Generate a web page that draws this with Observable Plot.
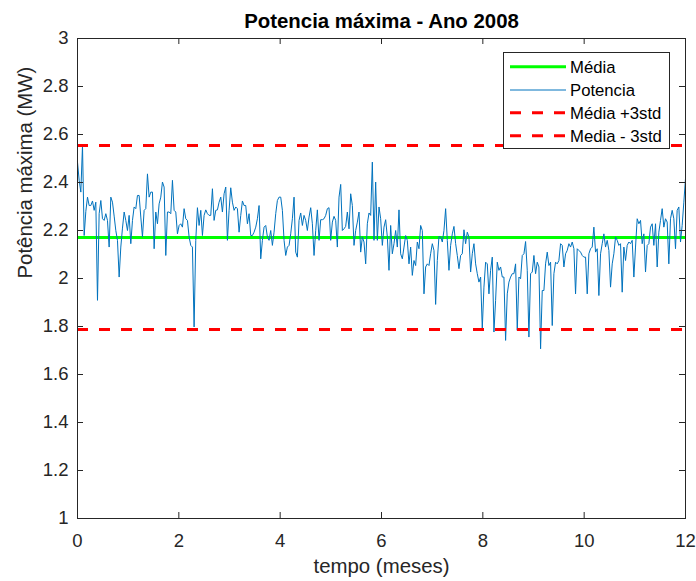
<!DOCTYPE html>
<html><head><meta charset="utf-8">
<script src="https://cdn.jsdelivr.net/npm/d3@7"></script>
<script src="https://cdn.jsdelivr.net/npm/@observablehq/plot@0.6"></script>
<style>
html,body{margin:0;padding:0;background:#fff;}
#wrap{position:relative;width:696px;height:581px;font-family:"Liberation Sans",Arial,sans-serif;}
#wrap svg{display:block;}
</style></head><body><div id="wrap"></div>
<script>
// Potência máxima diária (MW), ano 2008 (366 dias)
const potencia = [
2.485,2.409,2.360,2.554,2.179,2.28,2.339,2.304,2.304,2.323,2.284,2.318,1.909,2.270,2.325,2.249,2.242,2.270,2.242,2.131,
2.339,2.318,2.26,2.200,2.159,2.006,2.131,2.21,2.277,2.242,2.200,2.263,2.145,2.242,2.298,2.291,2.346,2.346,2.256,2.173,
2.284,2.291,2.436,2.339,2.360,2.360,2.124,2.277,2.228,2.311,2.339,2.402,2.381,2.096,2.277,2.277,2.270,2.409,2.284,2.277,
2.186,2.221,
2.228,2.214,2.291,2.249,2.242,2.173,2.138,2.131,1.798,2.159,2.295,2.221,2.284,2.179,2.263,2.286,2.270,2.263,2.263,2.374,
2.242,2.284,2.286,2.318,2.339,2.277,2.353,2.381,2.159,2.284,2.378,2.318,2.284,2.298,2.291,2.193,2.263,2.323,2.304,2.304,
2.228,2.270,2.179,2.179,2.193,2.214,2.249,2.304,2.082,2.159,2.214,2.221,2.173,2.159,2.200,2.138,2.193,2.270,2.325,2.339,
2.339,2.284,2.159,2.096,
2.131,2.138,2.186,2.249,2.339,2.110,2.089,2.242,2.273,2.221,2.263,2.242,2.200,2.256,2.295,2.228,2.096,2.200,2.286,2.159,
2.245,2.245,2.249,2.263,2.291,2.295,2.159,2.235,2.259,2.242,2.131,2.339,2.392,2.200,2.207,2.217,2.277,2.207,2.353,2.304,
2.138,2.200,2.235,2.277,2.110,2.173,2.152,2.061,2.228,2.273,2.263,2.485,2.159,2.402,2.159,2.298,2.249,2.138,2.214,2.245,
2.173,2.034,2.221,
2.103,2.145,2.200,2.131,2.286,2.103,2.082,2.131,2.179,2.159,2.061,2.131,2.013,2.075,2.054,2.152,2.124,2.221,2.200,1.936,
2.048,2.061,2.054,2.103,2.145,2.117,1.892,2.075,2.175,2.173,2.152,2.200,2.291,2.159,2.034,2.138,2.186,2.217,2.145,2.096,
2.041,2.096,2.103,2.203,2.145,2.193,2.173,2.027,2.103,2.145,2.061,2.020,1.985,2.006,1.791,1.964,2.068,2.061,1.936,2.034,
2.089,1.777,1.909,
2.068,2.034,2.048,2.006,2.006,1.742,1.936,1.985,2.006,2.020,2.020,2.061,1.784,2.006,1.999,2.096,2.103,2.154,2.034,1.756,
2.020,2.027,2.096,2.020,2.068,2.048,1.707,1.950,1.950,2.061,2.110,2.054,2.068,1.804,2.020,2.068,2.061,2.075,2.145,2.138,
2.048,2.103,2.117,2.145,2.131,2.152,2.124,1.936,2.124,2.117,2.110,2.096,2.089,2.089,1.936,2.103,2.124,2.131,2.214,2.110,
2.124,1.929,2.103,
2.145,2.186,2.131,2.159,2.117,1.964,2.061,2.103,2.173,2.159,2.138,2.145,1.943,2.131,2.075,2.138,2.152,2.145,2.159,2.006,
2.131,2.249,2.228,2.242,2.145,2.186,2.027,2.138,2.145,2.214,2.228,2.138,2.228,2.048,2.193,2.242,2.291,2.214,2.249,2.235,
2.061,2.249,2.284,2.249,2.124,2.284,2.298,2.152,2.221,2.318,2.416
];
const media = 2.171;
const mediaMais3std = 2.554;
const mediaMenos3std = 1.787;
const xTicks = [0, 2, 4, 6, 8, 10, 12];
const yTicks = [1, 1.2, 1.4, 1.6, 1.8, 2, 2.2, 2.4, 2.6, 2.8, 3];
const legendLabels = ["Média", "Potencia", "Média +3std", "Media - 3std"];
const titulo = "Potencia máxima - Ano 2008";
const xLabel = "tempo (meses)";
const yLabel = "Potência máxima (MW)";

const nDias = potencia.length;
const serie = potencia.map((v, i) => ({mes: i * 12 / (nDias - 1), valor: v}));

const W = 696, H = 581, mt = 38, mr = 11, mb = 63, ml = 77;
const pw = W - ml - mr, ph = H - mt - mb;
const axisCol = "#262626";
const font = "'Liberation Sans', Arial, Helvetica, sans-serif";

const chart = Plot.plot({
  width: W, height: H,
  marginTop: mt, marginRight: mr, marginBottom: mb, marginLeft: ml,
  style: {fontFamily: font, background: "#fff", color: axisCol, overflow: "visible"},
  x: {domain: [0, 12]},
  y: {domain: [1, 3]},
  marks: [
    Plot.ruleY([media], {stroke: "#00ff00", strokeWidth: 3}),
    Plot.line(serie, {x: "mes", y: "valor", stroke: "#0072bd", strokeWidth: 1}),
    Plot.ruleY([mediaMais3std, mediaMenos3std], {stroke: "#ff0000", strokeWidth: 3, strokeDasharray: "11,11"}),
    Plot.frame({stroke: axisCol, strokeWidth: 1}),
    Plot.tickY(yTicks, {y: d => d, stroke: axisCol, insetRight: pw - 6}),
    Plot.tickY(yTicks, {y: d => d, stroke: axisCol, insetLeft: pw - 6}),
    Plot.tickX(xTicks, {x: d => d, stroke: axisCol, insetTop: ph - 6}),
    Plot.tickX(xTicks, {x: d => d, stroke: axisCol, insetBottom: ph - 6}),
    Plot.axisX(xTicks, {tickSize: 0, tickPadding: 15, fontSize: 18.5, label: null, fill: axisCol}),
    Plot.axisY(yTicks, {tickSize: 0, tickPadding: 9, fontSize: 18.5, label: null, fill: axisCol,
      tickFormat: d => String(+d.toFixed(1))}),
    Plot.text([xLabel], {text: d => d, frameAnchor: "bottom", lineAnchor: "bottom", dy: 54, fontSize: 20.4, fill: axisCol}),
    Plot.text([yLabel], {text: d => d, frameAnchor: "left", dx: -52, rotate: -90, fontSize: 20.4, fill: axisCol}),
    Plot.text([titulo], {text: d => d, frameAnchor: "top", lineAnchor: "top", dy: -25, fontSize: 20.4, fontWeight: "bold", fill: "#000"})
  ]
});
const wrap = document.getElementById("wrap");
wrap.appendChild(chart);

// Legend
const legStyles = [
  {stroke: "#00ff00", width: 3, dash: null},
  {stroke: "#0072bd", width: 1, dash: null},
  {stroke: "#ff0000", width: 3, dash: "11,11"},
  {stroke: "#ff0000", width: 3, dash: "11,11"}
];
const leg = d3.select(wrap).append("svg")
  .attr("width", 167).attr("height", 97)
  .style("position", "absolute").style("left", "503px").style("top", "52px")
  .style("font-family", font);
leg.append("rect").attr("x", 0.5).attr("y", 0.5).attr("width", 166).attr("height", 96)
  .attr("fill", "#fff").attr("stroke", axisCol).attr("stroke-width", 1);
const rows = [14.7, 38, 60.7, 83.7];
legendLabels.forEach((lab, i) => {
  const s = legStyles[i];
  leg.append("line").attr("x1", 7).attr("x2", 63).attr("y1", rows[i]).attr("y2", rows[i])
    .attr("stroke", s.stroke).attr("stroke-width", s.width).attr("stroke-dasharray", s.dash);
  leg.append("text").attr("x", 67).attr("y", rows[i]).attr("dy", "0.35em")
    .attr("font-size", 16.7).attr("fill", "#000").text(lab);
});
</script>
</body></html>
